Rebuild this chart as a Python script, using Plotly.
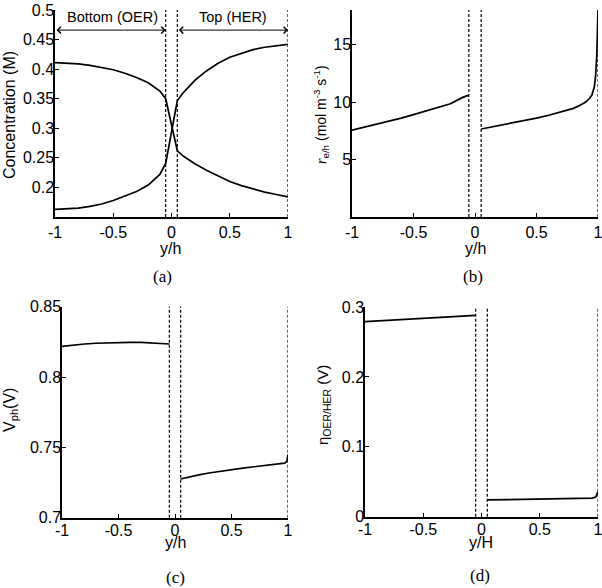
import plotly.graph_objects as go

# ---------------- data ----------------
# Panel (a): concentration profiles
x_a_left = [-1.0, -0.9, -0.8, -0.7, -0.6, -0.5, -0.4, -0.3, -0.2, -0.1, -0.05]
x_a_right = [0.05, 0.1, 0.2, 0.3, 0.4, 0.5, 0.6, 0.7, 0.8, 0.9, 1.0]
conc1_left = [0.411, 0.4105, 0.409, 0.4065, 0.403, 0.399, 0.393, 0.386, 0.377, 0.363, 0.350]
conc1_right = [0.262, 0.253, 0.240, 0.229, 0.219, 0.210, 0.203, 0.197, 0.192, 0.188, 0.184]
conc2_left = [0.163, 0.1635, 0.165, 0.168, 0.172, 0.178, 0.185, 0.193, 0.204, 0.222, 0.2405]
conc2_right = [0.347, 0.360, 0.381, 0.397, 0.410, 0.420, 0.427, 0.433, 0.437, 0.440, 0.442]

# Panel (b): reaction rate
x_b_left = [-1.0, -0.9, -0.8, -0.7, -0.6, -0.5, -0.4, -0.3, -0.2, -0.1, -0.05]
rate_left = [7.55, 7.8, 8.05, 8.33, 8.6, 8.9, 9.2, 9.52, 9.85, 10.4, 10.6]
x_b_right = [0.05, 0.1, 0.2, 0.3, 0.4, 0.5, 0.6, 0.7, 0.8, 0.85, 0.9, 0.93, 0.95, 0.97, 0.98, 0.99, 1.0]
rate_right = [7.65, 7.75, 7.95, 8.15, 8.38, 8.6, 8.85, 9.12, 9.45, 9.7, 10.0, 10.3, 10.6, 11.3, 12.2, 14.0, 18.0]

# Panel (c): photovoltage
x_c_left = [-1.0, -0.9, -0.8, -0.7, -0.6, -0.5, -0.4, -0.3, -0.2, -0.1, -0.05]
vph_left = [0.8218, 0.8228, 0.8235, 0.8240, 0.8244, 0.8246, 0.8247, 0.8246, 0.8243, 0.8239, 0.8235]
x_c_right = [0.05, 0.1, 0.2, 0.3, 0.4, 0.5, 0.6, 0.7, 0.8, 0.9, 0.95, 0.97, 0.99, 1.0]
vph_right = [0.7275, 0.7285, 0.7303, 0.7318, 0.7331, 0.7342, 0.7352, 0.7362, 0.7370, 0.7378, 0.7383, 0.7388, 0.7400, 0.7450]

# Panel (d): overpotential
x_d_left = [-1.0, -0.5, -0.05]
eta_left = [0.279, 0.2838, 0.288]
x_d_right = [0.05, 0.2, 0.4, 0.6, 0.8, 0.9, 0.95, 0.98, 1.0]
eta_right = [0.0240, 0.0243, 0.0248, 0.0252, 0.0257, 0.0260, 0.0265, 0.0280, 0.0360]

# boundaries
gap_lines = [-0.05, 0.05, 1.0]

# ticks
x_tickvals = [-1, -0.5, 0, 0.5, 1]
x_ticktext = ["-1", "-0.5", "0", "0.5", "1"]
a_tickvals = [0.2, 0.25, 0.3, 0.35, 0.4, 0.45, 0.5]
a_ticktext = ["0.2", "0.25", "0.3", "0.35", "0.4", "0.45", "0.5"]
b_tickvals = [5, 10, 15]
b_ticktext = ["5", "10", "15"]
c_tickvals = [0.7, 0.75, 0.8, 0.85]
c_ticktext = ["0.7", "0.75", "0.8", "0.85"]
d_tickvals = [0, 0.1, 0.2, 0.3]
d_ticktext = ["0", "0.1", "0.2", "0.3"]

# ---------------- figure ----------------
W, H = 602, 588
FONT = "Liberation Sans, Arial, sans-serif"
SERIF = "Liberation Serif, Times New Roman, serif"
TICKFONT = dict(family=FONT, size=16, color="black")
LINE = dict(color="black", width=1.7)

fig = go.Figure()

def add(x, y, xa, ya):
    fig.add_trace(go.Scatter(x=x, y=y, mode="lines", line=LINE, xaxis=xa, yaxis=ya,
                             showlegend=False, hoverinfo="skip", cliponaxis=False))

add(x_a_left + x_a_right, conc1_left + conc1_right, "x", "y")
add(x_a_left + x_a_right, conc2_left + conc2_right, "x", "y")
add(x_b_left, rate_left, "x2", "y2")
add(x_b_right, rate_right, "x2", "y2")
add(x_c_left, vph_left, "x3", "y3")
add(x_c_right, vph_right, "x3", "y3")
add(x_d_left, eta_left, "x4", "y4")
add(x_d_right, eta_right, "x4", "y4")

def px_x(p):
    return p / W

def px_y(p):
    return 1 - p / H

domains = {
    "": ([px_x(55), px_x(288)], [px_y(217), px_y(10)]),
    "2": ([px_x(352), px_x(598)], [px_y(217), px_y(10)]),
    "3": ([px_x(62), px_x(288)], [px_y(517.7), px_y(306.7)]),
    "4": ([px_x(365), px_x(598)], [px_y(516.7), px_y(307)]),
}
yranges = {"": [0.15, 0.5], "2": [0, 18], "3": [0.7, 0.85], "4": [0, 0.3]}
yticks = {"": (a_tickvals, a_ticktext), "2": (b_tickvals, b_ticktext),
          "3": (c_tickvals, c_ticktext), "4": (d_tickvals, d_ticktext)}
xstandoff = {"": 0, "2": 0, "3": -3, "4": -3}

axcommon = dict(showline=True, linecolor="black", linewidth=1.5, mirror=False,
                ticks="inside", ticklen=4, tickwidth=1, tickcolor="black",
                showgrid=False, zeroline=False, tickfont=TICKFONT, automargin=False,
                ticklabeloverflow="allow")

layout = {}
for k, (xd, yd) in domains.items():
    layout["xaxis" + k] = dict(domain=xd, range=[-1, 1], anchor="y" + k,
                               tickvals=x_tickvals, ticktext=x_ticktext,
                               ticklabelstandoff=xstandoff[k], **axcommon)
    layout["yaxis" + k] = dict(domain=yd, range=yranges[k], anchor="x" + k,
                               tickvals=yticks[k][0], ticktext=yticks[k][1],
                               ticklabelstandoff=-4, **axcommon)
fig.update_layout(**layout)

# dashed boundary lines
for k in ["", "2", "3", "4"]:
    xr = "x" + k
    for xv in gap_lines:
        fig.add_shape(type="line", xref=xr, yref=("y" + k) + " domain",
                      x0=xv, x1=xv, y0=0, y1=1,
                      line=dict(color="black", width=1.2, dash="3px,2px"))

annotations = []
# region arrows in (a)
for x0, x1 in [(-1, -0.05), (0.05, 1)]:
    annotations.append(dict(x=x1, y=0.466, ax=x0, ay=0.466, xref="x", yref="y",
                            axref="x", ayref="y", text="", showarrow=True,
                            arrowhead=4, startarrowhead=4, arrowside="end+start",
                            arrowsize=1.3, startarrowsize=1.3, arrowwidth=1, arrowcolor="black"))
annotations.append(dict(x=-0.51, y=0.489, xref="x", yref="y", text="Bottom (OER)",
                        xanchor="center", yanchor="middle",
                        showarrow=False, font=dict(family=FONT, size=14.5, color="black")))
annotations.append(dict(x=0.53, y=0.489, xref="x", yref="y", text="Top (HER)",
                        xanchor="center", yanchor="middle",
                        showarrow=False, font=dict(family=FONT, size=14.5, color="black")))

# axis titles
def xt(text, xc, yc):
    annotations.append(dict(x=px_x(xc), y=px_y(yc), xref="paper", yref="paper", text=text,
                            xanchor="center", yanchor="middle",
                            showarrow=False, font=dict(family=FONT, size=16, color="black")))

def yt(text, xc, yc, size=16):
    annotations.append(dict(x=px_x(xc), y=px_y(yc), xref="paper", yref="paper", text=text,
                            textangle=-90, showarrow=False, xanchor="center", yanchor="middle",
                            font=dict(family=FONT, size=size, color="black")))

xt("y/h", 171, 248)
xt("y/h", 475, 248)
xt("y/h", 175, 542)
xt("y/H", 481, 542)
yt("Concentration (M)", 10, 115)
yt("<span style=\"font-family:'Liberation Serif';font-style:italic\">r</span><sub>e/h</sub> (mol m<sup>-3</sup> s<sup>-1</sup>)",
   321, 115, size=14)
yt("V<sub>ph</sub>(V)", 10, 410)
yt("η<sub>OER/HER</sub> (V)", 323, 405, size=15)

# captions
for text, xc, yc in [("(a)", 162, 276), ("(b)", 473, 276), ("(c)", 175, 577), ("(d)", 480, 575)]:
    annotations.append(dict(x=px_x(xc), y=px_y(yc), xref="paper", yref="paper", text=text,
                            xanchor="center", yanchor="middle",
                            showarrow=False, font=dict(family=SERIF, size=17, color="black")))

fig.update_layout(width=W, height=H, margin=dict(l=0, r=0, t=0, b=0, autoexpand=False),
                  paper_bgcolor="white", plot_bgcolor="white",
                  annotations=annotations, showlegend=False)

fig.write_html("out.html", config={"displayModeBar": False},
               post_script="document.body.style.margin='0';document.body.style.overflow='hidden';")
